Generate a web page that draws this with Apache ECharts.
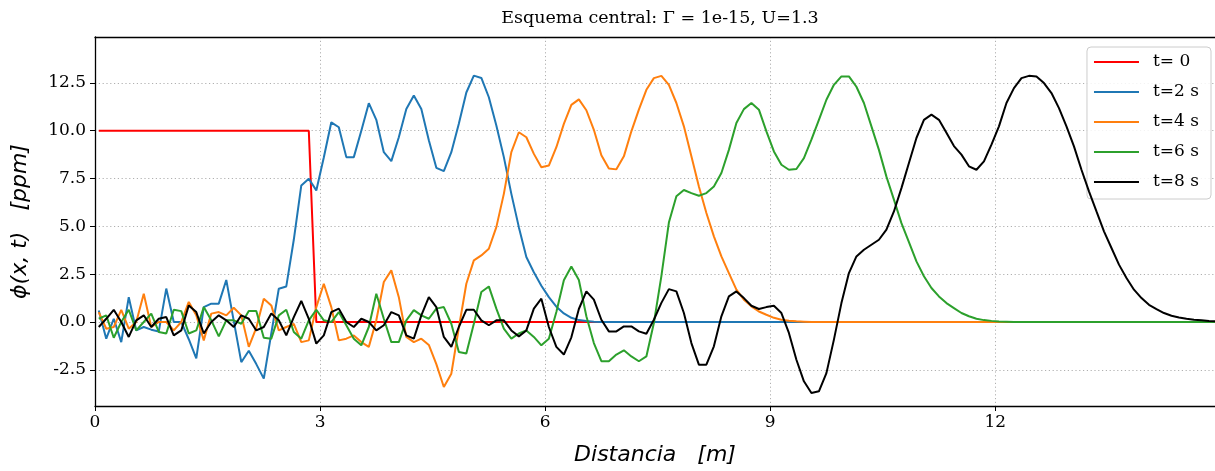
<!DOCTYPE html>
<html>
<head>
<meta charset="utf-8">
<script src="https://cdn.jsdelivr.net/npm/echarts@6/dist/echarts.min.js"></script>
<style>
html,body{margin:0;padding:0;background:#fff;}
#chart{width:1215px;height:471px;}
</style>
</head>
<body>
<div id="chart"></div>
<script>
// x positions (m)
const xPos = [
0.05,0.15,0.25,0.35,0.45,0.55,0.65,0.75,0.85,0.95,
1.05,1.15,1.25,1.35,1.45,1.55,1.65,1.75,1.85,1.95,
2.05,2.15,2.25,2.35,2.45,2.55,2.65,2.75,2.85,2.95,
3.05,3.15,3.25,3.35,3.45,3.55,3.65,3.75,3.85,3.95,
4.05,4.15,4.25,4.35,4.45,4.55,4.65,4.75,4.85,4.95,
5.05,5.15,5.25,5.35,5.45,5.55,5.65,5.75,5.85,5.95,
6.05,6.15,6.25,6.35,6.45,6.55,6.65,6.75,6.85,6.95,
7.05,7.15,7.25,7.35,7.45,7.55,7.65,7.75,7.85,7.95,
8.05,8.15,8.25,8.35,8.45,8.55,8.65,8.75,8.85,8.95,
9.05,9.15,9.25,9.35,9.45,9.55,9.65,9.75,9.85,9.95,
10.05,10.15,10.25,10.35,10.45,10.55,10.65,10.75,10.85,10.95,
11.05,11.15,11.25,11.35,11.45,11.55,11.65,11.75,11.85,11.95,
12.05,12.15,12.25,12.35,12.45,12.55,12.65,12.75,12.85,12.95,
13.05,13.15,13.25,13.35,13.45,13.55,13.65,13.75,13.85,13.95,
14.05,14.15,14.25,14.35,14.45,14.55,14.65,14.75,14.85,14.95
];

const seriesNames = ['t= 0', 't=2 s', 't=4 s', 't=6 s', 't=8 s'];

const phiT0 = [
10,10,10,10,10,10,10,10,10,10,
10,10,10,10,10,10,10,10,10,10,
10,10,10,10,10,10,10,10,10,0,
0,0,0,0,0,0,0,0,0,0,
0,0,0,0,0,0,0,0,0,0,
0,0,0,0,0,0,0,0,0,0,
0,0,0,0,0,0,0,0,0,0,
0,0,0,0,0,0,0,0,0,0,
0,0,0,0,0,0,0,0,0,0,
0,0,0,0,0,0,0,0,0,0,
0,0,0,0,0,0,0,0,0,0,
0,0,0,0,0,0,0,0,0,0,
0,0,0,0,0,0,0,0,0,0,
0,0,0,0,0,0,0,0,0,0,
0,0,0,0,0,0,0,0,0,0
];

const phiT2 = [
0.6,-0.87,0.17,-1.05,1.3,-0.44,-0.26,-0.4,-0.5,1.75,
0.0,0.0,-0.9,-1.9,0.78,0.96,0.96,2.2,0.05,-2.1,
-1.5,-2.2,-2.96,-0.6,1.74,1.86,4.3,7.14,7.49,6.88,
8.6,10.44,10.18,8.62,8.62,10.0,11.44,10.57,8.88,8.41,
9.66,11.14,11.84,11.14,9.5,8.06,7.89,8.88,10.36,12.0,
12.88,12.76,11.75,10.27,8.62,6.7,4.96,3.4,2.6,1.9,
1.3,0.8,0.45,0.22,0.1,0.05,0.02,0,0,0,
0,0,0,0,0,0,0,0,0,0,
0,0,0,0,0,0,0,0,0,0,
0,0,0,0,0,0,0,0,0,0,
0,0,0,0,0,0,0,0,0,0,
0,0,0,0,0,0,0,0,0,0,
0,0,0,0,0,0,0,0,0,0,
0,0,0,0,0,0,0,0,0,0,
0,0,0,0,0,0,0,0,0,0
];

const phiT4 = [
0.52,-0.35,-0.26,0.64,-0.35,0,1.48,-0.26,0,0,
-0.44,0,1.05,0.35,-0.96,0.44,0.52,0.35,0.75,0.35,
-1.3,-0.3,1.22,0.87,-0.44,-0.26,-0.1,-1.05,-0.96,0.78,
2.0,0.78,-0.96,-0.87,-0.7,-1.05,-1.3,0.09,2.09,2.7,
1.3,-0.78,-1.05,-0.87,-1.2,-2.2,-3.4,-2.7,-0.3,2.0,
3.22,3.48,3.83,4.96,6.7,8.88,9.92,9.66,8.79,8.09,
8.18,9.14,10.36,11.35,11.64,11.07,10.05,8.72,8.02,7.98,
8.66,9.97,11.1,12.14,12.75,12.87,12.4,11.45,10.23,8.66,
7.09,5.7,4.48,3.43,2.56,1.69,1.17,0.82,0.55,0.38,
0.22,0.12,0.07,0.04,0.02,0,0,0,0,0,
0,0,0,0,0,0,0,0,0,0,
0,0,0,0,0,0,0,0,0,0,
0,0,0,0,0,0,0,0,0,0,
0,0,0,0,0,0,0,0,0,0,
0,0,0,0,0,0,0,0,0,0
];

const phiT6 = [
0.17,0.35,-0.82,0,0.64,-0.44,0,0.44,-0.52,-0.6,
0.64,0.57,-0.6,-0.44,0.78,0.09,-0.75,0.09,0.09,-0.09,
0.58,0.58,-0.82,-0.87,0.35,0.64,-0.52,-0.87,0.09,0.64,
0.09,0,0.52,-0.17,-0.87,-1.22,-0.26,1.48,0.17,-1.05,
-1.05,0.09,0.62,0.35,0.17,0.7,0.78,-0.09,-1.57,-1.65,
-0.09,1.57,1.86,0.7,-0.35,-0.87,-0.6,-0.44,-0.78,-1.22,
-0.87,0.52,2.18,2.9,2.2,0.3,-1.1,-2.05,-2.05,-1.7,
-1.48,-1.8,-2.05,-1.8,-0.05,2.4,5.2,6.57,6.9,6.74,
6.6,6.74,7.09,7.79,9.0,10.4,11.13,11.45,11.1,9.97,
8.92,8.22,7.96,8.0,8.57,9.53,10.57,11.62,12.4,12.84,
12.84,12.3,11.45,10.23,9.0,7.6,6.4,5.17,4.18,3.17,
2.39,1.78,1.34,0.99,0.73,0.47,0.3,0.17,0.1,0.06,
0.03,0.02,0,0,0,0,0,0,0,0,
0,0,0,0,0,0,0,0,0,0,
0,0,0,0,0,0,0,0,0,0
];

const phiT8 = [
-0.26,0.17,0.64,0,-0.78,0.09,0.35,-0.26,0.17,0.26,
-0.7,-0.44,0.87,0.52,-0.6,0,0.35,0.09,-0.26,0.35,
0.17,-0.44,-0.26,0.44,0.09,-0.7,0.26,1.1,0.17,-1.13,
-0.7,0.52,0.7,0,-0.26,0.17,0,-0.44,-0.17,0.52,
0.35,-0.7,-0.87,0.35,1.3,0.78,-0.78,-1.3,-0.26,0.64,
0.64,0.09,-0.17,0.09,0.09,-0.44,-0.75,-0.44,0.7,1.22,
-0.26,-1.3,-1.7,-0.8,0.68,1.6,1.17,0.12,-0.49,-0.49,
-0.23,-0.23,-0.49,-0.61,0.12,1.0,1.72,1.6,0.47,-1.1,
-2.23,-2.23,-1.27,0.3,1.34,1.6,1.25,0.85,0.68,0.78,
0.85,0.47,-0.57,-1.97,-3.1,-3.71,-3.62,-2.67,-0.92,0.99,
2.56,3.43,3.78,4.04,4.3,4.83,5.78,7.0,8.31,9.62,
10.57,10.84,10.57,9.9,9.2,8.75,8.14,7.96,8.4,9.27,
10.23,11.45,12.23,12.75,12.87,12.84,12.49,11.97,11.18,10.23,
9.18,7.96,6.83,5.78,4.74,3.87,3.0,2.3,1.69,1.25,
0.9,0.68,0.47,0.33,0.24,0.17,0.12,0.09,0.05,0.04
];

const xTicks = [0, 3, 6, 9, 12];
const yTicks = [-2.5, 0, 2.5, 5, 7.5, 10, 12.5];

const colors = ['#ff0000', '#1f77b4', '#ff7f0e', '#2ca02c', '#000000'];
const allSeries = [phiT0, phiT2, phiT4, phiT6, phiT8];

const chart = echarts.init(document.getElementById('chart'), null, {renderer: 'canvas'});

const serif = 'DejaVu Serif';
const gridLine = {show: true, lineStyle: {color: '#b0b0b0', width: 1, type: [1.2, 2.6]}};

const option = {
  animation: false,
  backgroundColor: '#ffffff',
  title: {
    text: 'Esquema central: Γ = 1e-15, U=1.3',
    left: 655,
    textAlign: 'center',
    top: 4,
    textStyle: {fontFamily: serif, fontSize: 17.5, fontWeight: 'normal', color: '#000'}
  },
  legend: {
    data: seriesNames,
    orient: 'vertical',
    right: 4,
    top: 47,
    icon: 'rect',
    itemWidth: 45,
    itemHeight: 2,
    itemGap: 10,
    padding: [5, 12, 7, 7],
    backgroundColor: 'rgba(255,255,255,0.85)',
    borderColor: '#cccccc',
    borderWidth: 1,
    borderRadius: 4,
    textStyle: {fontFamily: serif, fontSize: 17, color: '#000', lineHeight: 20, padding: [0, 0, 0, 9]}
  },
  grid: {left: 95, right: 0, top: 37, bottom: 65, containLabel: false},
  xAxis: [{
    type: 'value',
    min: 0,
    max: 14.93,
    name: 'Distancia   [m]',
    nameLocation: 'middle',
    nameGap: 38,
    nameTextStyle: {fontFamily: 'DejaVu Sans', fontStyle: 'italic', fontSize: 22, color: '#000'},
    axisLine: {show: true, onZero: false, lineStyle: {color: '#000', width: 1.3}},
    axisTick: {show: true, inside: false, length: 5, customValues: xTicks, lineStyle: {color: '#000', width: 1}},
    axisLabel: {show: true, margin: 8, customValues: xTicks, fontFamily: serif, fontSize: 17, color: '#000'},
    splitLine: gridLine
  }, {
    type: 'value',
    position: 'top',
    min: 0,
    max: 14.93,
    axisLine: {show: true, onZero: false, lineStyle: {color: '#000', width: 1.3}},
    axisTick: {show: false},
    axisLabel: {show: false},
    splitLine: {show: false}
  }],
  yAxis: {
    type: 'value',
    min: -4.39,
    max: 14.9,
    name: 'ϕ(x, t)   [ppm]',
    nameLocation: 'middle',
    nameGap: 64,
    nameTextStyle: {fontFamily: 'DejaVu Sans', fontStyle: 'italic', fontSize: 22, color: '#000'},
    axisLine: {show: true, onZero: false, lineStyle: {color: '#000', width: 1.3}},
    axisTick: {show: true, inside: false, length: 5, customValues: yTicks, lineStyle: {color: '#000', width: 1}},
    axisLabel: {show: true, margin: 9, customValues: yTicks, fontFamily: serif, fontSize: 17, color: '#000',
      formatter: v => v.toFixed(1)},
    splitLine: gridLine
  },
  series: allSeries.map((arr, k) => ({
    name: seriesNames[k],
    type: 'line',
    xAxisIndex: 0,
    showSymbol: false,
    symbol: 'none',
    clip: true,
    color: colors[k],
    lineStyle: {color: colors[k], width: 2},
    data: xPos.map((x, i) => [x, arr[i]]),
    z: 2 + k
  }))
};

chart.setOption(option);
</script>
</body>
</html>
